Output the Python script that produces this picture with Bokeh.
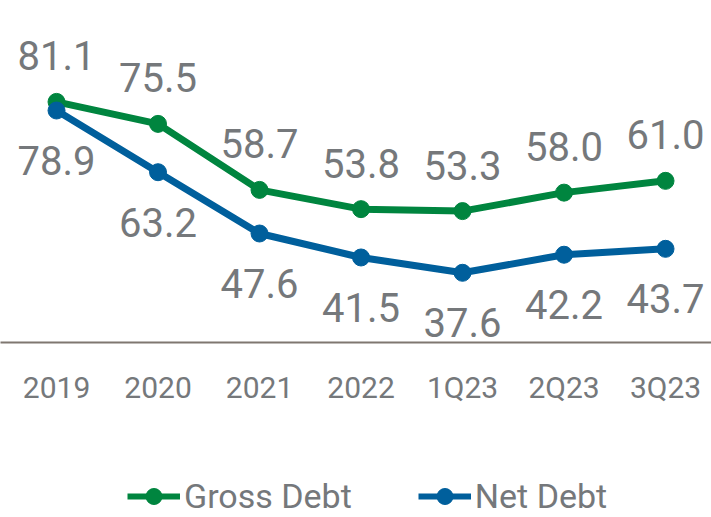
from bokeh.plotting import figure
from bokeh.layouts import column
from bokeh.models import Range1d, FixedTicker, Legend, LegendItem, ColumnDataSource
from bokeh.core.properties import value
from bokeh.embed import file_html
from bokeh.resources import INLINE

periods = ["2019", "2020", "2021", "2022", "1Q23", "2Q23", "3Q23"]
gross_debt = [81.1, 75.5, 58.7, 53.8, 53.3, 58.0, 61.0]
net_debt = [78.9, 63.2, 47.6, 41.5, 37.6, 42.2, 43.7]

GREEN = "#00853f"
BLUE = "#005f9c"
GRAY = "#75787b"
FONT = "Roboto"

xs = list(range(len(periods)))
src = ColumnDataSource(dict(
    x=xs,
    g=gross_debt,
    n=net_debt,
    gl=[f"{v:.1f}" for v in gross_debt],
    nl=[f"{v:.1f}" for v in net_debt],
))

p = figure(width=711, height=407, output_backend="svg", toolbar_location=None,
           x_range=Range1d(-0.552, 6.453), y_range=Range1d(19.86, 106.9),
           y_axis_location=None, min_border_left=0, min_border_right=0,
           min_border_top=0, min_border_bottom=0)
p.outline_line_color = None
p.grid.visible = False

p.line("x", "g", source=src, line_color=GREEN, line_width=7)
p.scatter("x", "g", source=src, size=17, fill_color=GREEN, line_color=GREEN)
p.line("x", "n", source=src, line_color=BLUE, line_width=7)
p.scatter("x", "n", source=src, size=17, fill_color=BLUE, line_color=BLUE)

p.text("x", "g", text="gl", source=src, y_offset=-46, text_align="center",
       text_baseline="middle", text_font=value(FONT), text_font_size="40px",
       text_color=GRAY)
p.text("x", "n", text="nl", source=src, y_offset=50, text_align="center",
       text_baseline="middle", text_font=value(FONT), text_font_size="40px",
       text_color=GRAY)

ax = p.xaxis[0]
ax.ticker = FixedTicker(ticks=xs)
ax.major_label_overrides = {i: s for i, s in enumerate(periods)}
ax.major_tick_line_color = None
ax.minor_tick_line_color = None
ax.major_tick_out = 0
ax.major_tick_in = 0
ax.major_label_standoff = 27
ax.axis_line_color = "#7f7770"
ax.axis_line_width = 2
ax.major_label_text_font = FONT
ax.major_label_text_font_size = "30px"
ax.major_label_text_color = GRAY

# legend strip (same series, drawn outside its visible ranges so only the legend shows)
q = figure(width=711, height=110, output_backend="svg", toolbar_location=None,
           x_range=Range1d(0, 1), y_range=Range1d(0, 1),
           x_axis_location=None, y_axis_location=None,
           min_border_left=0, min_border_right=0,
           min_border_top=0, min_border_bottom=0)
q.outline_line_color = None
q.grid.visible = False
lg1 = q.line("x", "g", source=src, line_color=GREEN, line_width=6)
sg1 = q.scatter("x", "g", source=src, fill_color=GREEN, line_color=GREEN)
lg2 = q.line("x", "n", source=src, line_color=BLUE, line_width=6)
sg2 = q.scatter("x", "n", source=src, fill_color=BLUE, line_color=BLUE)

legend = Legend(items=[
    LegendItem(label="Gross Debt", renderers=[lg1, sg1]),
    LegendItem(label="Net Debt", renderers=[lg2, sg2]),
], orientation="horizontal", location=(127, 1))
legend.glyph_width = 53
legend.glyph_height = 40
legend.label_standoff = 4
legend.spacing = 66
legend.padding = 0
legend.margin = 0
legend.label_text_font = FONT
legend.label_text_font_size = "34px"
legend.label_text_color = GRAY
legend.background_fill_alpha = 0
legend.border_line_color = None
q.add_layout(legend, "center")

layout = column(p, q, spacing=0)
open("out.html", "w").write(file_html(layout, INLINE))
